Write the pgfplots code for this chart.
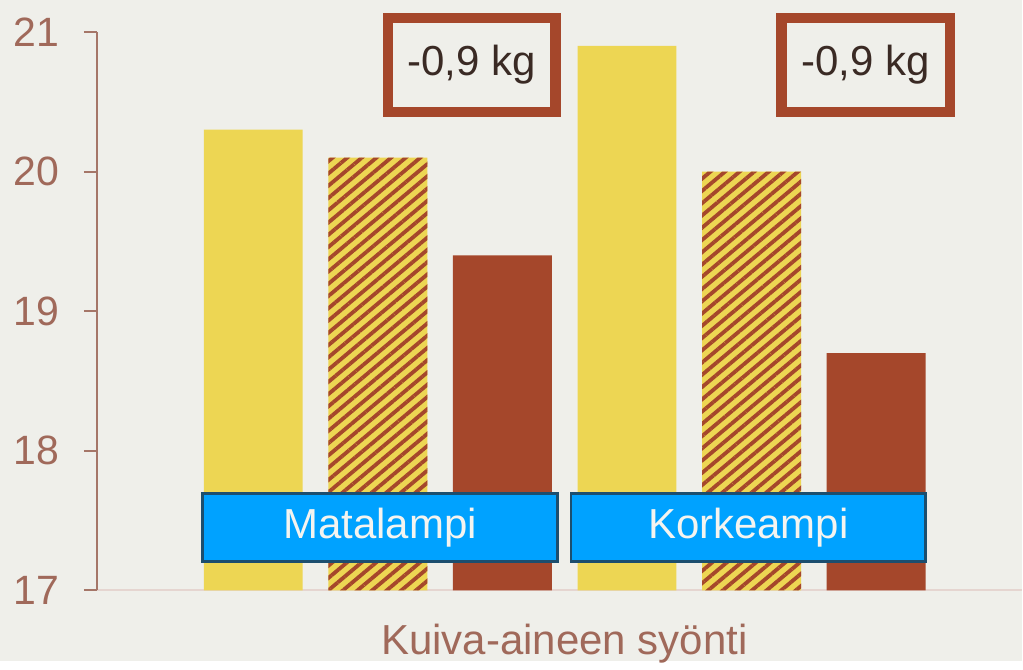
\documentclass[border=0pt]{standalone}
\usepackage{pgfplots}
\pgfplotsset{compat=1.18}
\usepackage{fontspec}
\setmainfont{Liberation Sans}
\usetikzlibrary{patterns.meta}
\definecolor{bgc}{RGB}{239,239,234}
\definecolor{yel}{RGB}{237,214,83}
\definecolor{brn}{RGB}{165,71,43}
\definecolor{blu}{RGB}{0,162,255}
\definecolor{bluedge}{RGB}{28,78,110}
\definecolor{tickc}{RGB}{160,105,90}
\definecolor{axc}{RGB}{165,118,104}
\definecolor{basec}{RGB}{229,213,208}
\definecolor{darktxt}{RGB}{58,42,36}
\definecolor{wtxt}{RGB}{244,244,240}
\begin{document}
\begin{tikzpicture}
\fill[bgc] (0,0) rectangle (511.5pt,331pt);
\begin{axis}[
  at={(48.5pt,35.5pt)}, anchor=south west,
  x=62.35pt, y=69.875pt,
  xmin=-1.255, xmax=6.171, ymin=17, ymax=21,
  axis x line=bottom, axis y line=left,
  x axis line style={draw=basec, line width=1pt, -},
  y axis line style={draw=axc, line width=1pt, -},
  xtick=\empty,
  ytick={17,18,19,20,21},
  tick align=outside,
  major tick length=6.5pt,
  ytick style={draw=axc, line width=1pt},
  yticklabel style={font=\fontsize{20.5}{24}\selectfont, text=tickc, anchor=east, xshift=-9pt},
  /pgf/number format/assume math mode=true,
  clip mode=individual,
  ybar, bar width=49.5pt, bar shift=0pt,
]
\addplot[fill=yel, draw=none] coordinates {(0,20.3) (3,20.9)};
\addplot[fill=yel, draw=none, postaction={pattern={Lines[angle=40,distance=4.7pt,line width=1.9pt]}, pattern color=brn}] coordinates {(1,20.1) (4,20.0)};
\addplot[fill=brn, draw=none] coordinates {(2,19.4) (5,18.7)};
% group labels
\node[fill=blu, draw=bluedge, line width=1.25pt, minimum width=177.5pt, minimum height=34pt, inner sep=0pt,
  text=wtxt, font=\fontsize{21}{24}\selectfont] at (axis cs:1.018,17.451) {Matalampi};
\node[fill=blu, draw=bluedge, line width=1.25pt, minimum width=177.5pt, minimum height=34pt, inner sep=0pt,
  text=wtxt, font=\fontsize{21}{24}\selectfont] at (axis cs:3.974,17.451) {Korkeampi};
% difference boxes
\draw[brn, line width=5.25pt] (axis cs:1.081,21.100) rectangle (axis cs:2.427,20.428);
\node[text=darktxt, font=\fontsize{21}{25}\selectfont] at (axis cs:1.754,20.764) {-0,9 kg};
\draw[brn, line width=5.25pt] (axis cs:4.241,21.100) rectangle (axis cs:5.592,20.428);
\node[text=darktxt, font=\fontsize{21}{25}\selectfont] at (axis cs:4.916,20.764) {-0,9 kg};
% axis title
\node[text=tickc, font=\fontsize{21}{24}\selectfont, anchor=base] at (axis cs:2.498,16.542) {Kuiva-aineen syönti};
\end{axis}
\end{tikzpicture}
\end{document}
